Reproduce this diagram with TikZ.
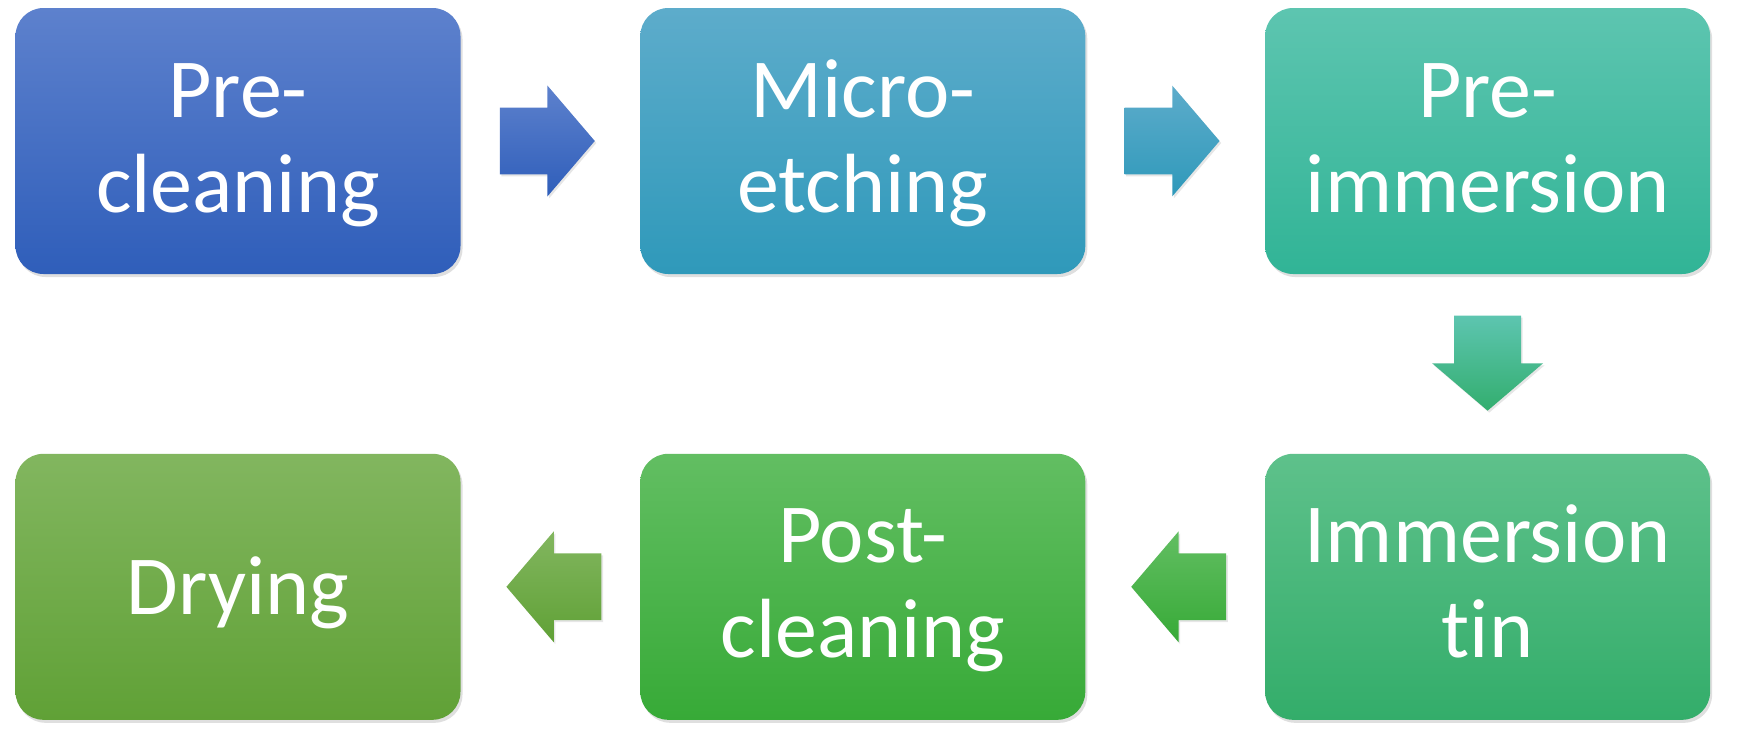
\documentclass[tikz,border=0pt]{standalone}
\usepackage{fontspec}
\setmainfont{Carlito}[Ligatures={NoCommon,NoContextual}]
\usetikzlibrary{positioning,calc,shapes.arrows,shadows}

\definecolor{blueTop}{HTML}{5D81CD}
\definecolor{blueBot}{HTML}{2F5EBA}
\definecolor{cyanTop}{HTML}{5DACCB}
\definecolor{cyanBot}{HTML}{2F99BA}
\definecolor{tealTop}{HTML}{5DC5B0}
\definecolor{tealBot}{HTML}{31B496}
\definecolor{mintTop}{HTML}{5EC18B}
\definecolor{mintBot}{HTML}{33AD6A}
\definecolor{grnTop}{HTML}{62BE62}
\definecolor{grnBot}{HTML}{37AA37}
\definecolor{oliveTop}{HTML}{82B65F}
\definecolor{oliveBot}{HTML}{60A136}

\begin{document}
\begin{tikzpicture}[
  x=0.5pt,y=-0.5pt,
  stage/.style={rounded corners=14pt,minimum width=222.5pt,minimum height=133pt,
    align=center,text=white,inner sep=0pt,text height=78.5pt,text depth=7.5pt,
    font=\fontsize{42}{47.5}\selectfont,
    drop shadow={opacity=0.25,shadow xshift=1pt,shadow yshift=-1.5pt}},
  flow/.style={single arrow,minimum height=47.5pt,minimum width=55pt,
    single arrow head extend=11pt,single arrow tip angle=99,
    inner xsep=0pt,inner ysep=16.5pt,
    drop shadow={opacity=0.2,shadow xshift=0.8pt,shadow yshift=-1pt}}
]
\useasboundingbox (0,0) rectangle (1753,745);

% ---- top row ----
\node[stage,top color=blueTop,bottom color=blueBot] (pre) at (238,141) {Pre-\\cleaning};
\node[stage,top color=cyanTop,bottom color=cyanBot,right=89.5pt of pre] (micro) {Micro-\\etching};
\node[stage,top color=tealTop,bottom color=tealBot,right=89.5pt of micro] (preim) {Pre-\\immersion};

% ---- bottom row ----
\node[stage,top color=mintTop,bottom color=mintBot,below=89.5pt of preim] (tin) {Immersion\\tin};
\node[stage,top color=grnTop,bottom color=grnBot,left=89.5pt of tin] (post) {Post-\\cleaning};
\node[stage,top color=oliveTop,bottom color=oliveBot,left=89.5pt of post,text height=31pt,text depth=3.8pt] (dry) {Drying};

% ---- block arrows ----
\node[flow,xshift=-8.7pt,top color=blueTop,bottom color=blueBot] (a1) at ($(pre.east)!0.5!(micro.west)$) {};
\node[flow,xshift=-8.7pt,top color=cyanTop,bottom color=cyanBot] (a2) at ($(micro.east)!0.5!(preim.west)$) {};
\node[flow,shape border rotate=270,inner xsep=16.5pt,inner ysep=0pt,yshift=7.5pt,top color=tealTop,bottom color=mintBot!90!tealBot] (a3) at ($(preim.south)!0.5!(tin.north)$) {};
\node[flow,shape border rotate=180,xshift=8.9pt,top color=grnTop,bottom color=grnBot] (a4) at ($(tin.west)!0.5!(post.east)$) {};
\node[flow,shape border rotate=180,xshift=8.9pt,top color=oliveTop,bottom color=oliveBot] (a5) at ($(post.west)!0.5!(dry.east)$) {};

\end{tikzpicture}
\end{document}
